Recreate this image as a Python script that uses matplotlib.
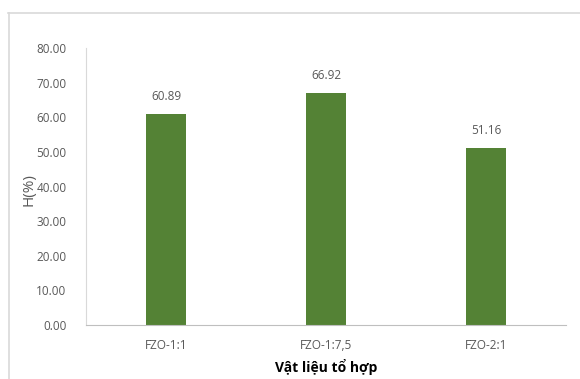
import matplotlib.pyplot as plt
from matplotlib.lines import Line2D

# Dữ liệu độ hấp phụ H(%) theo vật liệu
categories = ["FZO-1:1", "FZO-1:7,5", "FZO-2:1"]
values = [60.89, 66.92, 51.16]
yticks = [0, 10, 20, 30, 40, 50, 60, 70, 80]

plt.rcParams['font.family'] = ['Open Sans', 'DejaVu Sans']

fig = plt.figure(figsize=(5.8, 3.79), dpi=100)

# Khung viền biểu đồ (chỉ thấy cạnh trên và cạnh trái)
fig.add_artist(Line2D([8 / 580, 1.0], [1 - 12.5 / 379] * 2, color='#d9d9d9', lw=1.2))
fig.add_artist(Line2D([8.5 / 580] * 2, [0, 1 - 12.5 / 379], color='#d9d9d9', lw=1.2))

ax = fig.add_axes([86 / 580, 1 - 325 / 379, 480 / 580, (325 - 48) / 379])
x = range(len(categories))
bars = ax.bar(x, values, width=0.256, color='#548235')

for b, v in zip(bars, values):
    ax.text(b.get_x() + b.get_width() / 2, v + 3.2, f"{v:.2f}", ha='center', va='bottom',
            fontsize=8.5, color='#595959')

ax.set_xlim(-0.5, 2.5)
ax.set_ylim(0, 80)
ax.set_yticks(yticks)
ax.set_yticklabels([f"{t:.2f}" for t in yticks])
ax.set_xticks(list(x))
ax.set_xticklabels(categories)
ax.tick_params(axis='both', length=0, labelsize=8.5, labelcolor='#595959')
ax.tick_params(axis='x', pad=10)
ax.tick_params(axis='y', pad=14)

for s in ['top', 'right']:
    ax.spines[s].set_visible(False)
ax.spines['left'].set_color('#d9d9d9')
ax.spines['bottom'].set_color('#bfbfbf')

ax.set_ylabel("H(%)", fontsize=11, color='#595959', va='center')
ax.yaxis.set_label_coords((29 - 86) / 480, 0.49)
ax.set_xlabel("Vật liệu tổ hợp", fontsize=10, fontweight='bold', color='black', labelpad=5)

fig.savefig("out.png", dpi=100)
